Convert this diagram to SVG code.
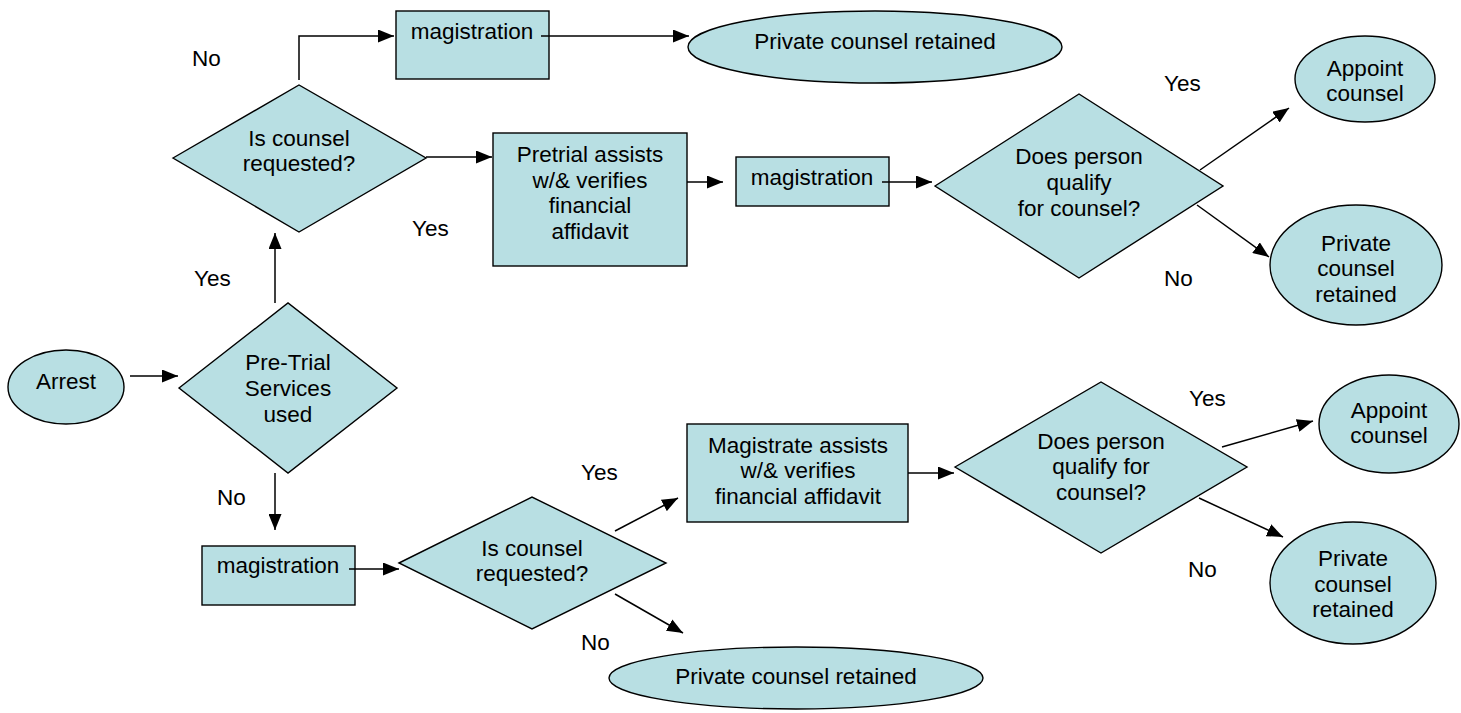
<svg xmlns="http://www.w3.org/2000/svg" width="1461" height="713" viewBox="0 0 1461 713">
<style>
.n{fill:#b8dfe3;stroke:#000;stroke-width:1.4}
.t{font-family:"Liberation Sans",Arial,sans-serif;font-size:22.5px;fill:#000;text-anchor:middle}
.l{font-family:"Liberation Sans",Arial,sans-serif;font-size:22.5px;fill:#000}
.c{fill:none;stroke:#000;stroke-width:1.5;marker-end:url(#ah)}
</style>
<defs>
<marker id="ah" markerUnits="userSpaceOnUse" markerWidth="17" markerHeight="13" refX="16" refY="6.5" orient="auto">
<path d="M0,0 L16,6.5 L0,13 z" fill="#000"/>
</marker>
</defs>
<rect width="1461" height="713" fill="#fff"/>

<g id="arrest"><ellipse class="n" cx="66" cy="387" rx="58" ry="37"/><text class="t" x="66" y="389">Arrest</text></g>
<g id="pretrial-used"><polygon class="n" points="179,388 288,303 397,388 288,473"/><text class="t" x="288" y="370">Pre-Trial</text><text class="t" x="288" y="396">Services</text><text class="t" x="288" y="422">used</text></g>

<g id="req-top"><polygon class="n" points="173,158 299,85 426,158 299,232"/><text class="t" x="299" y="146">Is counsel</text><text class="t" x="299" y="171">requested?</text></g>
<g id="mag-top"><rect class="n" x="396" y="11" width="153" height="68"/><text class="t" x="472" y="39">magistration</text></g>
<g id="pcr-top"><ellipse class="n" cx="875" cy="47" rx="187" ry="36"/><text class="t" x="875" y="49">Private counsel retained</text></g>
<g id="pretrial-assists"><rect class="n" x="493" y="133" width="194" height="133"/><text class="t" x="590" y="162">Pretrial assists</text><text class="t" x="590" y="188">w/&amp; verifies</text><text class="t" x="590" y="213">financial</text><text class="t" x="590" y="239">affidavit</text></g>
<g id="mag-mid"><rect class="n" x="736" y="157" width="153" height="49"/><text class="t" x="812" y="185">magistration</text></g>
<g id="qualify-top"><polygon class="n" points="935,186 1079,94 1223,186 1079,278"/><text class="t" x="1079" y="164">Does person</text><text class="t" x="1079" y="190">qualify</text><text class="t" x="1079" y="216">for counsel?</text></g>
<g id="appoint-top"><ellipse class="n" cx="1365" cy="79" rx="70" ry="43"/><text class="t" x="1365" y="76">Appoint</text><text class="t" x="1365" y="101">counsel</text></g>
<g id="pcr-right-top"><ellipse class="n" cx="1356" cy="265" rx="86" ry="60"/><text class="t" x="1356" y="251">Private</text><text class="t" x="1356" y="276">counsel</text><text class="t" x="1356" y="302">retained</text></g>

<g id="mag-bottom"><rect class="n" x="202" y="546" width="153" height="59"/><text class="t" x="278" y="573">magistration</text></g>
<g id="req-bottom"><polygon class="n" points="399,563 532,497 666,563 532,629"/><text class="t" x="532" y="556">Is counsel</text><text class="t" x="532" y="581">requested?</text></g>
<g id="magistrate-assists"><rect class="n" x="687" y="424" width="221" height="98"/><text class="t" x="798" y="453">Magistrate assists</text><text class="t" x="798" y="478">w/&amp; verifies</text><text class="t" x="798" y="504">financial affidavit</text></g>
<g id="pcr-bottom"><ellipse class="n" cx="796" cy="678" rx="187" ry="31"/><text class="t" x="796" y="684">Private counsel retained</text></g>
<g id="qualify-bottom"><polygon class="n" points="955,467 1101,382 1247,467 1101,553"/><text class="t" x="1101" y="449">Does person</text><text class="t" x="1101" y="474">qualify for</text><text class="t" x="1101" y="500">counsel?</text></g>
<g id="appoint-bottom"><ellipse class="n" cx="1389" cy="424" rx="70" ry="49"/><text class="t" x="1389" y="418">Appoint</text><text class="t" x="1389" y="443">counsel</text></g>
<g id="pcr-right-bottom"><ellipse class="n" cx="1353" cy="583" rx="83" ry="61"/><text class="t" x="1353" y="566">Private</text><text class="t" x="1353" y="592">counsel</text><text class="t" x="1353" y="617">retained</text></g>

<g id="connectors">
<path class="c" d="M130,376 H178"/>
<path class="c" d="M275,303 V233"/>
<path class="c" d="M299,80 V36 H394"/>
<path class="c" d="M541,36 H689"/>
<path class="c" d="M426,157 H492"/>
<path class="c" d="M687,182 H723"/>
<path class="c" d="M882,182 H932"/>
<path class="c" d="M1200,170 L1289,108"/>
<path class="c" d="M1197,205 L1269,257"/>
<path class="c" d="M275,473 V530"/>
<path class="c" d="M349,569 H399"/>
<path class="c" d="M615,531 L678,498"/>
<path class="c" d="M615,594 L683,633"/>
<path class="c" d="M908,473 H954"/>
<path class="c" d="M1222,447 L1313,421"/>
<path class="c" d="M1199,498 L1283,537"/>
</g>

<g id="labels">
<text class="l" x="192" y="66">No</text>
<text class="l" x="412" y="236">Yes</text>
<text class="l" x="194" y="286">Yes</text>
<text class="l" x="1164" y="91">Yes</text>
<text class="l" x="1164" y="286">No</text>
<text class="l" x="217" y="505">No</text>
<text class="l" x="581" y="480">Yes</text>
<text class="l" x="581" y="650">No</text>
<text class="l" x="1189" y="406">Yes</text>
<text class="l" x="1188" y="577">No</text>
</g>
</svg>
